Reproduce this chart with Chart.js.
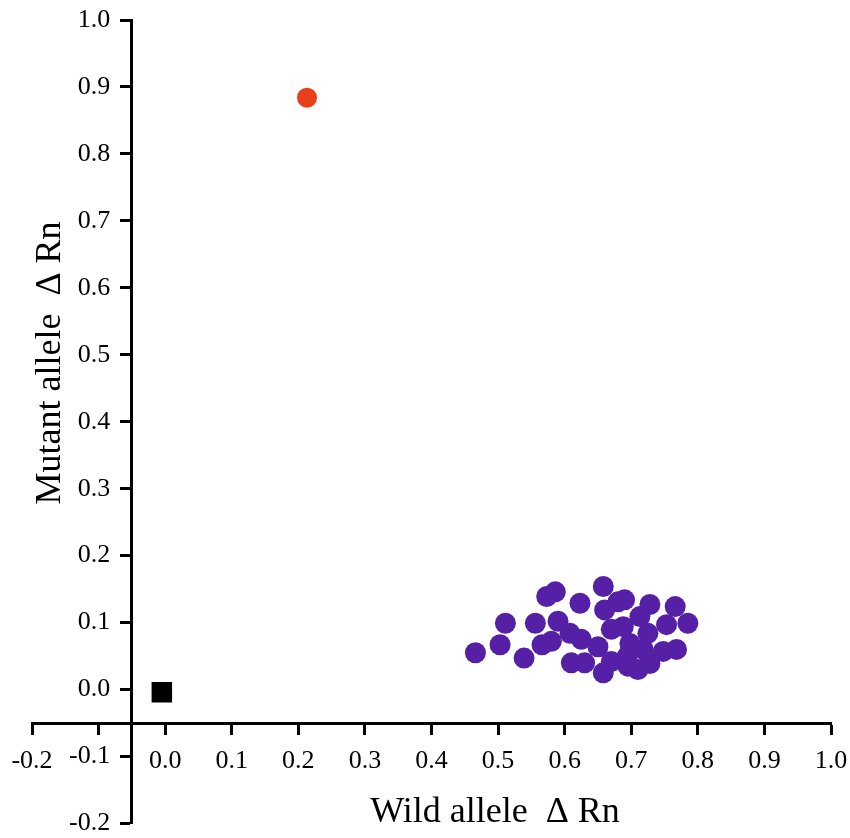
<!DOCTYPE html>
<html><head><meta charset="utf-8">
<script src="https://cdn.jsdelivr.net/npm/chart.js@4/dist/chart.umd.min.js"></script>
<style>html,body{margin:0;padding:0;background:#fff;overflow:hidden}</style>
</head><body>
<canvas id="c" width="850" height="838"></canvas>
<script>
// ---- data ----
const heteroWild   = [0.466,0.503,0.511,0.539,0.556,0.566,0.580,0.573,0.586,0.590,0.623,0.658,0.610,0.630,0.658,0.650,0.670,0.680,0.660,0.608,0.625,0.670,0.695,0.766,0.785,0.768,0.748,0.728,0.753,0.725,0.710,0.728,0.690,0.713,0.698,0.718,0.688,0.694];
const heteroMutant = [0.055,0.067,0.099,0.047,0.099,0.067,0.072,0.139,0.146,0.102,0.129,0.154,0.040,0.040,0.025,0.064,0.042,0.131,0.119,0.084,0.075,0.090,0.035,0.124,0.099,0.060,0.057,0.127,0.097,0.084,0.030,0.039,0.134,0.109,0.069,0.060,0.094,0.050];
const mutantWild   = [0.213];
const mutantMutant = [0.884];
const blankWild    = [-0.005];
const blankMutant  = [-0.004];
const xTickLabels = ['-0.2','','0.0','0.1','0.2','0.3','0.4','0.5','0.6','0.7','0.8','0.9','1.0'];
const yTickLabels = ['-0.2','-0.1','0.0','0.1','0.2','0.3','0.4','0.5','0.6','0.7','0.8','0.9','1.0'];
const xTitle = 'Wild allele  \u0394 Rn';
const yTitle = 'Mutant allele  \u0394 Rn';

const toPts = (xs, ys) => xs.map((x, i) => ({x, y: ys[i]}));
const FONT = '"Liberation Serif", "Times New Roman", serif';

const titlePlugin = {
  id: 'axisTitles',
  afterDraw(chart) {
    const ctx = chart.ctx;
    ctx.save();
    ctx.fillStyle = '#000';
    ctx.font = '36px ' + FONT;
    ctx.textAlign = 'center';
    ctx.textBaseline = 'alphabetic';
    ctx.fillText(xTitle, 495, 822);
    ctx.translate(60, 363);
    ctx.rotate(-Math.PI / 2);
    ctx.fillText(yTitle, 0, 0);
    ctx.restore();
  }
};

const zeroPad = (s) => { s.paddingLeft = 0; s.paddingRight = 0; s.paddingTop = 0; s.paddingBottom = 0; };

const axisCommon = {
  type: 'linear',
  min: -0.2, max: 1.0,
  grid: { display: true, drawOnChartArea: false, drawTicks: true, tickLength: 10, tickWidth: 3, tickColor: '#000' },
  border: { display: true, color: '#000', width: 3 },
};

new Chart(document.getElementById('c'), {
  type: 'scatter',
  data: {
    datasets: [
      { label: 'blank', data: toPts(blankWild, blankMutant), pointStyle: 'rect', pointRadius: 14.5, backgroundColor: '#000', borderColor: '#000', borderWidth: 0 },
      { label: 'mutant', data: toPts(mutantWild, mutantMutant), pointRadius: 10, backgroundColor: '#e8401a', borderColor: '#e8401a', borderWidth: 0 },
      { label: 'hetero', data: toPts(heteroWild, heteroMutant), pointRadius: 10.5, backgroundColor: '#5520a6', borderColor: '#5520a6', borderWidth: 0 }
    ]
  },
  options: {
    responsive: false,
    animation: false,
    devicePixelRatio: 1,
    layout: { padding: { left: 32, right: 19, top: 20, bottom: 10 } },
    plugins: { legend: { display: false }, tooltip: { enabled: false } },
    scales: {
      x: Object.assign({}, axisCommon, {
        position: { y: -0.05 },
        afterFit(s) { s.height = 0; zeroPad(s); },
        ticks: { stepSize: 0.1, autoSkip: false, maxRotation: 0, padding: 13, color: '#000', font: { family: FONT, size: 26 },
          callback: (v, i) => xTickLabels[i] }
      }),
      y: Object.assign({}, axisCommon, {
        position: { x: -0.05 },
        afterFit(s) { s.width = 0; zeroPad(s); },
        ticks: { stepSize: 0.1, autoSkip: false, padding: 13, color: '#000', font: { family: FONT, size: 26 },
          callback: (v, i) => yTickLabels[i] + '\u2002\u2004' }
      })
    }
  },
  plugins: [titlePlugin]
});
</script>
</body></html>
